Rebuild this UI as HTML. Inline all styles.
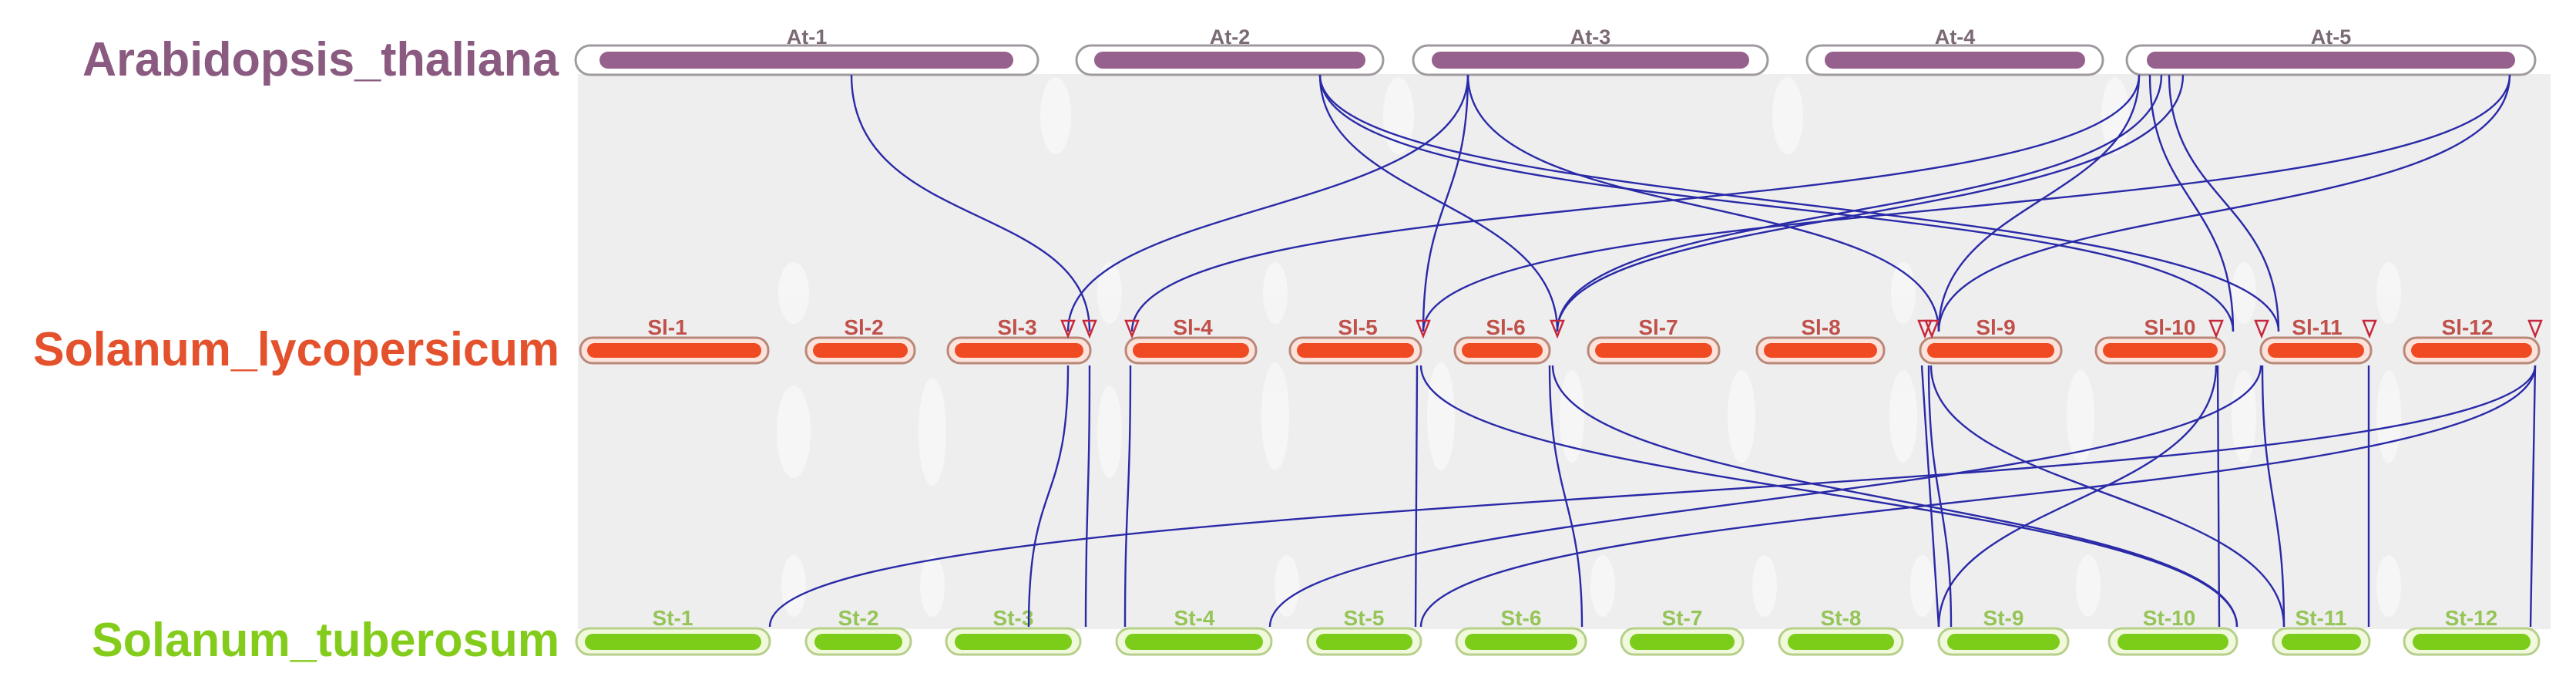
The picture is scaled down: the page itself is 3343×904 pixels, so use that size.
<!DOCTYPE html>
<html><head><meta charset="utf-8"><style>
html,body{margin:0;padding:0;background:#fff;}
svg{display:block;}
text{font-family:"Liberation Sans",Arial,sans-serif;font-weight:bold;}
</style></head><body>
<svg width="3343" height="904" viewBox="0 0 3343 904" xmlns="http://www.w3.org/2000/svg">
<rect width="3343" height="904" fill="#fff"/>
<!-- gray synteny background -->
<rect x="750" y="96" width="2560" height="720" fill="#eeeeee"/>
<g fill="#f7f7f7" opacity="0.8">
<ellipse cx="1030" cy="560" rx="22" ry="60"/><ellipse cx="1210" cy="560" rx="18" ry="70"/>
<ellipse cx="1440" cy="560" rx="16" ry="60"/><ellipse cx="1655" cy="540" rx="18" ry="70"/>
<ellipse cx="1870" cy="540" rx="18" ry="70"/><ellipse cx="2040" cy="540" rx="16" ry="60"/>
<ellipse cx="2260" cy="540" rx="18" ry="60"/><ellipse cx="2470" cy="540" rx="18" ry="60"/>
<ellipse cx="2700" cy="540" rx="18" ry="60"/><ellipse cx="2912" cy="540" rx="16" ry="60"/>
<ellipse cx="3100" cy="540" rx="16" ry="60"/>
<ellipse cx="1370" cy="150" rx="20" ry="50"/><ellipse cx="1815" cy="150" rx="20" ry="50"/>
<ellipse cx="2320" cy="150" rx="20" ry="50"/><ellipse cx="2745" cy="150" rx="18" ry="50"/>
<ellipse cx="1030" cy="380" rx="20" ry="40"/><ellipse cx="1440" cy="380" rx="16" ry="40"/>
<ellipse cx="1655" cy="380" rx="16" ry="40"/><ellipse cx="2470" cy="380" rx="16" ry="40"/>
<ellipse cx="2912" cy="380" rx="16" ry="40"/><ellipse cx="3100" cy="380" rx="16" ry="40"/>
<ellipse cx="1030" cy="760" rx="16" ry="40"/><ellipse cx="1210" cy="760" rx="16" ry="40"/>
<ellipse cx="1670" cy="760" rx="16" ry="40"/><ellipse cx="2080" cy="760" rx="16" ry="40"/>
<ellipse cx="2290" cy="760" rx="16" ry="40"/><ellipse cx="2495" cy="760" rx="16" ry="40"/>
<ellipse cx="2710" cy="760" rx="16" ry="40"/><ellipse cx="3100" cy="760" rx="16" ry="40"/>
</g>

<!-- species labels -->
<text x="107" y="98" font-size="62" fill="#8a5a80" textLength="618" lengthAdjust="spacingAndGlyphs">Arabidopsis_thaliana</text>
<text x="43" y="474" font-size="62" fill="#e4522d" textLength="683" lengthAdjust="spacingAndGlyphs">Solanum_lycopersicum</text>
<text x="119" y="851" font-size="62" fill="#84cc1c" textLength="607" lengthAdjust="spacingAndGlyphs">Solanum_tuberosum</text>

<!-- At chromosomes -->
<g>
<rect x="747" y="59" width="600" height="38" rx="19" fill="#fff" stroke="#a09aa0" stroke-width="3"/>
<rect x="778" y="67" width="537" height="22" rx="11" fill="#96618c"/>
<rect x="1397" y="59" width="398" height="38" rx="19" fill="#fff" stroke="#a09aa0" stroke-width="3"/>
<rect x="1420" y="67" width="352" height="22" rx="11" fill="#96618c"/>
<rect x="1834" y="59" width="460" height="38" rx="19" fill="#fff" stroke="#a09aa0" stroke-width="3"/>
<rect x="1858" y="67" width="412" height="22" rx="11" fill="#96618c"/>
<rect x="2345" y="59" width="384" height="38" rx="19" fill="#fff" stroke="#a09aa0" stroke-width="3"/>
<rect x="2368" y="67" width="338" height="22" rx="11" fill="#96618c"/>
<rect x="2760" y="59" width="530" height="38" rx="19" fill="#fff" stroke="#a09aa0" stroke-width="3"/>
<rect x="2786" y="67" width="478" height="22" rx="11" fill="#96618c"/>
</g>
<g font-size="27" fill="#7a6a76" text-anchor="middle">
<text x="1047" y="57">At-1</text><text x="1596" y="57">At-2</text><text x="2064" y="57">At-3</text>
<text x="2537" y="57">At-4</text><text x="3025" y="57">At-5</text>
</g>

<!-- Sl chromosomes -->
<g stroke="#b98878" stroke-width="3" fill="#fbe3dc">
<rect x="753" y="438" width="244" height="33" rx="16"/>
<rect x="1046" y="438" width="141" height="33" rx="16"/>
<rect x="1230" y="438" width="185" height="33" rx="16"/>
<rect x="1461" y="438" width="169" height="33" rx="16"/>
<rect x="1674" y="438" width="170" height="33" rx="16"/>
<rect x="1888" y="438" width="123" height="33" rx="16"/>
<rect x="2061" y="438" width="170" height="33" rx="16"/>
<rect x="2280" y="438" width="165" height="33" rx="16"/>
<rect x="2492" y="438" width="183" height="33" rx="16"/>
<rect x="2720" y="438" width="167" height="33" rx="16"/>
<rect x="2934" y="438" width="143" height="33" rx="16"/>
<rect x="3120" y="438" width="175" height="33" rx="16"/>
</g>
<g fill="#ef4a22">
<rect x="762" y="445" width="226" height="19" rx="9.5"/>
<rect x="1055" y="445" width="123" height="19" rx="9.5"/>
<rect x="1239" y="445" width="167" height="19" rx="9.5"/>
<rect x="1470" y="445" width="151" height="19" rx="9.5"/>
<rect x="1683" y="445" width="152" height="19" rx="9.5"/>
<rect x="1897" y="445" width="105" height="19" rx="9.5"/>
<rect x="2070" y="445" width="152" height="19" rx="9.5"/>
<rect x="2289" y="445" width="147" height="19" rx="9.5"/>
<rect x="2501" y="445" width="165" height="19" rx="9.5"/>
<rect x="2729" y="445" width="149" height="19" rx="9.5"/>
<rect x="2943" y="445" width="125" height="19" rx="9.5"/>
<rect x="3129" y="445" width="157" height="19" rx="9.5"/>
</g>
<g font-size="28" fill="#c0504a" text-anchor="middle">
<text x="866" y="434">Sl-1</text><text x="1121" y="434">Sl-2</text><text x="1320" y="434">Sl-3</text>
<text x="1548" y="434">Sl-4</text><text x="1762" y="434">Sl-5</text><text x="1954" y="434">Sl-6</text>
<text x="2152" y="434">Sl-7</text><text x="2363" y="434">Sl-8</text><text x="2590" y="434">Sl-9</text>
<text x="2816" y="434">Sl-10</text><text x="3007" y="434">Sl-11</text><text x="3202" y="434">Sl-12</text>
</g>

<!-- St chromosomes -->
<g stroke="#b6cf8a" stroke-width="3" fill="#f1f9dc">
<rect x="748" y="815" width="251" height="34" rx="17"/>
<rect x="1046" y="815" width="136" height="34" rx="17"/>
<rect x="1228" y="815" width="174" height="34" rx="17"/>
<rect x="1449" y="815" width="201" height="34" rx="17"/>
<rect x="1697" y="815" width="147" height="34" rx="17"/>
<rect x="1890" y="815" width="168" height="34" rx="17"/>
<rect x="2104" y="815" width="158" height="34" rx="17"/>
<rect x="2309" y="815" width="160" height="34" rx="17"/>
<rect x="2516" y="815" width="168" height="34" rx="17"/>
<rect x="2737" y="815" width="166" height="34" rx="17"/>
<rect x="2950" y="815" width="125" height="34" rx="17"/>
<rect x="3120" y="815" width="175" height="34" rx="17"/>
</g>
<g fill="#7ccc1a">
<rect x="759" y="822" width="229" height="21" rx="10.5"/>
<rect x="1057" y="822" width="114" height="21" rx="10.5"/>
<rect x="1239" y="822" width="152" height="21" rx="10.5"/>
<rect x="1460" y="822" width="179" height="21" rx="10.5"/>
<rect x="1708" y="822" width="125" height="21" rx="10.5"/>
<rect x="1901" y="822" width="146" height="21" rx="10.5"/>
<rect x="2115" y="822" width="136" height="21" rx="10.5"/>
<rect x="2320" y="822" width="138" height="21" rx="10.5"/>
<rect x="2527" y="822" width="146" height="21" rx="10.5"/>
<rect x="2748" y="822" width="144" height="21" rx="10.5"/>
<rect x="2961" y="822" width="103" height="21" rx="10.5"/>
<rect x="3131" y="822" width="153" height="21" rx="10.5"/>
</g>
<g font-size="28" fill="#95c457" text-anchor="middle">
<text x="873" y="811">St-1</text><text x="1114" y="811">St-2</text><text x="1315" y="811">St-3</text>
<text x="1550" y="811">St-4</text><text x="1770" y="811">St-5</text><text x="1974" y="811">St-6</text>
<text x="2183" y="811">St-7</text><text x="2389" y="811">St-8</text><text x="2600" y="811">St-9</text>
<text x="2815" y="811">St-10</text><text x="3012" y="811">St-11</text><text x="3207" y="811">St-12</text>
</g>

<!-- At -> Sl links -->
<g fill="none" stroke="#2a2aa8" stroke-width="2.4">
<path d="M1105 97 C1105 300,1414 260,1414 430"/>
<path d="M1905 97 C1905 280,1386 260,1386 430"/>
<path d="M2776 97 C2776 300,1469 230,1469 430"/>
<path d="M1905 97 C1905 260,1847 260,1847 430"/>
<path d="M3257 97 C3257 300,1847 240,1847 430"/>
<path d="M1713 97 C1713 260,2021 260,2021 430"/>
<path d="M2805 97 C2805 300,2021 250,2021 430"/>
<path d="M2833 97 C2833 300,2021 260,2021 430"/>
<path d="M1905 97 C1905 300,2516 240,2516 430"/>
<path d="M2776 97 C2776 260,2516 260,2516 430"/>
<path d="M3257 97 C3257 300,2516 250,2516 430"/>
<path d="M1713 97 C1713 300,2898 240,2898 430"/>
<path d="M1713 97 C1713 280,2957 250,2957 430"/>
<path d="M2790 97 C2790 260,2898 260,2898 430"/>
<path d="M2815 97 C2815 260,2957 260,2957 430"/>
</g>

<!-- Sl -> St links -->
<g fill="none" stroke="#2a2aa8" stroke-width="2.4">
<path d="M1386 474 C1386 660,1335 620,1335 813"/>
<path d="M1414 474 C1414 650,1409 650,1409 813"/>
<path d="M1467 474 C1467 650,1460 650,1460 813"/>
<path d="M1839 474 L1837 813"/>
<path d="M1844 474 C1844 640,2903 640,2903 813"/>
<path d="M2011 474 C2011 650,2053 650,2053 813"/>
<path d="M2015 474 C2015 650,2903 650,2903 813"/>
<path d="M2494 474 L2516 813"/>
<path d="M2503 474 C2503 650,2532 650,2532 813"/>
<path d="M2506 474 C2506 640,2964 640,2964 813"/>
<path d="M2876 474 C2876 650,2516 650,2516 813"/>
<path d="M2878 474 L2880 813"/>
<path d="M2934 474 C2934 650,1648 650,1648 813"/>
<path d="M2936 474 C2936 650,2964 650,2964 813"/>
<path d="M3074 474 L3074 813"/>
<path d="M3290 474 C3290 660,999 620,999 813"/>
<path d="M3290 474 C3290 660,1844 640,1844 813"/>
<path d="M3290 474 L3284 813"/>
</g>

<!-- triangles -->
<g fill="none" stroke="#c8283c" stroke-width="2.5">
<path d="M1378 416 L1394 416 L1386 436 Z"/>
<path d="M1406 416 L1422 416 L1414 436 Z"/>
<path d="M1461 416 L1477 416 L1469 436 Z"/>
<path d="M1839 416 L1855 416 L1847 436 Z"/>
<path d="M2013 416 L2029 416 L2021 436 Z"/>
<path d="M2490 416 L2506 416 L2498 436 Z"/>
<path d="M2499 416 L2515 416 L2507 436 Z"/>
<path d="M2868 416 L2884 416 L2876 436 Z"/>
<path d="M2927 416 L2943 416 L2935 436 Z"/>
<path d="M3067 416 L3083 416 L3075 436 Z"/>
<path d="M3282 416 L3298 416 L3290 436 Z"/>
</g>
</svg>
</body></html>
